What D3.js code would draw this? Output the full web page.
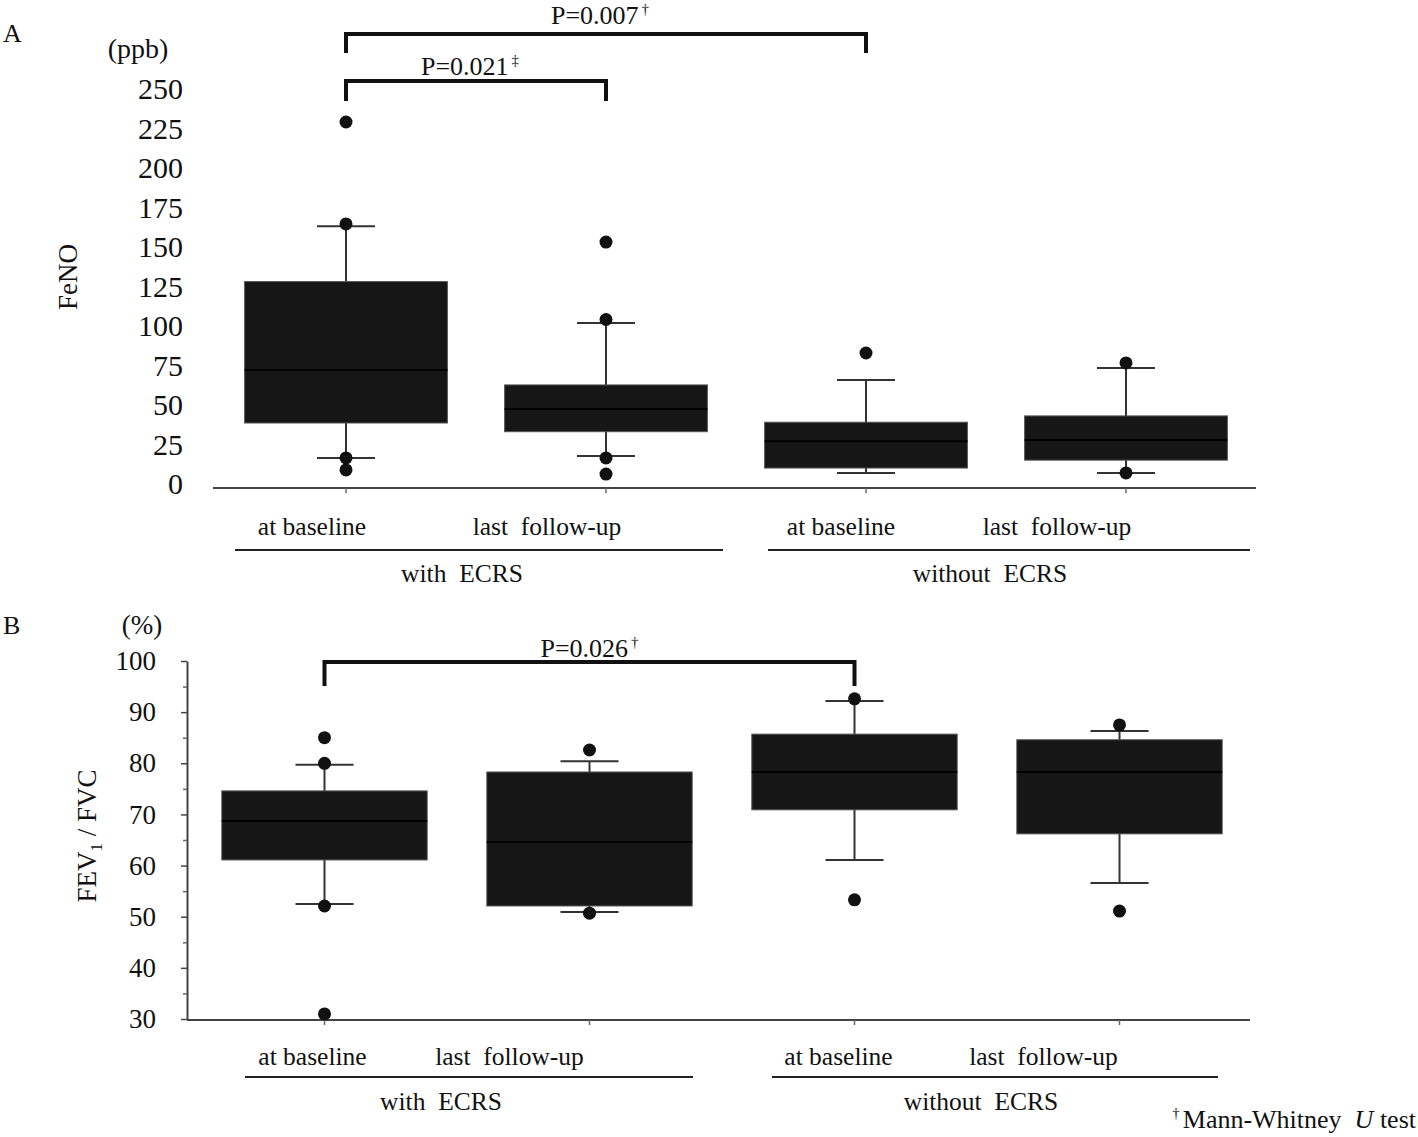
<!DOCTYPE html>
<html>
<head>
<meta charset="utf-8">
<script src="https://cdn.jsdelivr.net/npm/d3@7"></script>
<style>
  html, body { margin: 0; padding: 0; background: #fff; }
  svg text { font-family: 'Liberation Serif', 'Times New Roman', serif; fill: #111; white-space: pre; }
</style>
</head>
<body>
<svg id="chart" width="1418" height="1137"></svg>
<script>
// ---------- DATA ----------
const categories = ["with_base", "with_follow", "without_base", "without_follow"];
const timepointLabels = ["at baseline", "last  follow-up", "at baseline", "last  follow-up"];
const groupLabels = ["with  ECRS", "without  ECRS"];

// Panel A: FeNO (ppb)
const fenoTicks = [0, 25, 50, 75, 100, 125, 150, 175, 200, 225, 250];
const fenoQ1 = [40.5, 35, 12, 17];
const fenoMedian = [74, 49.4, 29, 29.7];
const fenoQ3 = [130, 64.6, 41, 45];
const fenoWhiskerLow = [18.4, 19.6, 8.9, 8.9];
const fenoWhiskerHigh = [165, 103.8, 67.7, 75.3];
const fenoOutliers = [[231, 166.5, 18.4, 10.8], [155, 106, 18.4, 8.2], [84.8], [78.5, 8.9]];

// Panel B: FEV1/FVC (%)
const fevTicks = [30, 40, 50, 60, 70, 80, 90, 100];
const fevMinorTicks = [35, 45, 55, 65, 75, 85, 95];
const fevQ1 = [61.1, 52.1, 70.9, 66.2];
const fevMedian = [68.7, 64.6, 78.3, 78.3];
const fevQ3 = [74.6, 78.3, 85.7, 84.6];
const fevWhiskerLow = [52.5, 50.9, 61.1, 56.6];
const fevWhiskerHigh = [79.7, 80.4, 92.2, 86.3];
const fevOutliers = [[85, 80, 52.1, 31], [82.6, 50.7], [92.6, 53.3], [87.5, 51.1]];

// Significance annotations
const fenoBrackets = [
  { from: "with_base", to: "without_base", label: "P=0.007", mark: "\u2020" },
  { from: "with_base", to: "with_follow", label: "P=0.021", mark: "\u2021" }
];
const fevBrackets = [
  { from: "with_base", to: "without_base", label: "P=0.026", mark: "\u2020" }
];

// ---------- DRAW ----------
const svg = d3.select("#chart");

function boxStats(q1, med, q3, wl, wh, outl) {
  return categories.map((c, i) => ({ cat: c, q1: q1[i], med: med[i], q3: q3[i], wl: wl[i], wh: wh[i], out: outl[i] }));
}

function drawBoxes(g, data, x, y, boxFrac) {
  const bw = x.bandwidth();
  const capW = 58;
  const boxW = bw * boxFrac;
  const grp = g.selectAll("g.box").data(data).join("g").attr("class", "box")
    .attr("transform", d => `translate(${x(d.cat) + bw / 2},0)`);
  grp.append("line").attr("x1", 0).attr("x2", 0)
    .attr("y1", d => y(d.wh)).attr("y2", d => y(d.wl))
    .attr("stroke", "#333").attr("stroke-width", 2);
  grp.append("line").attr("x1", -capW / 2).attr("x2", capW / 2)
    .attr("y1", d => y(d.wh)).attr("y2", d => y(d.wh))
    .attr("stroke", "#333").attr("stroke-width", 2);
  grp.append("line").attr("x1", -capW / 2).attr("x2", capW / 2)
    .attr("y1", d => y(d.wl)).attr("y2", d => y(d.wl))
    .attr("stroke", "#333").attr("stroke-width", 2);
  grp.append("rect").attr("x", -boxW / 2).attr("width", boxW)
    .attr("y", d => y(d.q3)).attr("height", d => y(d.q1) - y(d.q3))
    .attr("fill", "#161616").attr("stroke", "#555").attr("stroke-width", 1);
  grp.append("line").attr("x1", -boxW / 2).attr("x2", boxW / 2)
    .attr("y1", d => y(d.med)).attr("y2", d => y(d.med))
    .attr("stroke", "#000").attr("stroke-width", 2);
  grp.selectAll("circle").data(d => d.out).join("circle")
    .attr("cx", 0).attr("cy", v => y(v)).attr("r", 6.5).attr("fill", "#111");
}

function drawBrackets(g, brackets, x, tops, drops, labelY, labelDx) {
  const bw = x.bandwidth();
  brackets.forEach((b, i) => {
    const x1 = x(b.from) + bw / 2, x2 = x(b.to) + bw / 2;
    g.append("path")
      .attr("d", `M${x1},${drops[i]}V${tops[i]}H${x2}V${drops[i]}`)
      .attr("fill", "none").attr("stroke", "#111").attr("stroke-width", 4);
    const t = g.append("text").attr("x", (x1 + x2) / 2 + labelDx[i]).attr("y", labelY[i])
      .attr("text-anchor", "middle").attr("font-size", 26);
    t.append("tspan").text(b.label);
    t.append("tspan").attr("font-size", 15).attr("dy", -10).attr("dx", 3).text(b.mark);
  });
}

function drawCategoryLabels(g, x, labelDx, tpBaseline, lines, lineY, groupCenters, groupBaseline) {
  const bw = x.bandwidth();
  categories.forEach((c, i) => {
    g.append("text").attr("x", x(c) + bw / 2 + labelDx[i]).attr("y", tpBaseline)
      .attr("text-anchor", "middle").attr("font-size", 25.5).text(timepointLabels[i]);
  });
  lines.forEach(l => {
    g.append("line").attr("x1", l[0]).attr("x2", l[1]).attr("y1", lineY).attr("y2", lineY)
      .attr("stroke", "#222").attr("stroke-width", 2);
  });
  groupLabels.forEach((gl, i) => {
    g.append("text").attr("x", groupCenters[i]).attr("y", groupBaseline)
      .attr("text-anchor", "middle").attr("font-size", 25.5).text(gl);
  });
}

// ===== Panel A =====
{
  const g = svg.append("g");
  const x = d3.scaleBand().domain(categories).range([216, 1256]).padding(0);
  const y = d3.scaleLinear().domain([0, 250]).range([487, 92]);

  const yAxis = d3.axisLeft(y).tickValues(fenoTicks).tickSize(0).tickPadding(0);
  const ya = g.append("g").attr("transform", "translate(183,-3)").call(yAxis);
  ya.select(".domain").remove();
  ya.selectAll("text").attr("font-size", 30).attr("fill", "#111")
    .style("font-family", "'Liberation Serif', 'Times New Roman', serif");

  const xAxis = d3.axisBottom(x).tickSize(5).tickSizeOuter(0).tickFormat("");
  const xa = g.append("g").attr("transform", "translate(0,488)").call(xAxis);
  xa.select(".domain").attr("stroke", "#444").attr("stroke-width", 2).attr("d", "M213,0H1256");
  xa.selectAll(".tick line").attr("stroke", "#666").attr("stroke-width", 1.5);

  drawBoxes(g, boxStats(fenoQ1, fenoMedian, fenoQ3, fenoWhiskerLow, fenoWhiskerHigh, fenoOutliers), x, y, 0.78);
  drawBrackets(g, fenoBrackets, x, [34, 81], [53, 101], [24, 75], [-6, -6]);

  drawCategoryLabels(g, x, [-34, -59, -25, -69], 535, [[235, 723], [768, 1250]], 550, [462, 990], 582);

  g.append("text").attr("x", 3).attr("y", 42).attr("font-size", 26).text("A");
  g.append("text").attr("x", 138).attr("y", 58).attr("text-anchor", "middle").attr("font-size", 28).text("(ppb)");
  g.append("text").attr("transform", "translate(77,277) rotate(-90)").attr("text-anchor", "middle")
    .attr("font-size", 27).text("FeNO");
}

// ===== Panel B =====
{
  const g = svg.append("g");
  const x = d3.scaleBand().domain(categories).range([192, 1252]).padding(0);
  const y = d3.scaleLinear().domain([30, 100]).range([1019, 661]);

  const yAxis = d3.axisLeft(y).tickValues(fevTicks).tickSize(6).tickPadding(25).tickSizeOuter(0);
  const ya = g.append("g").attr("transform", "translate(187,0)").call(yAxis);
  ya.select(".domain").attr("stroke", "#444").attr("stroke-width", 2);
  ya.selectAll(".tick line").attr("stroke", "#444").attr("stroke-width", 1.5);
  ya.selectAll("text").attr("font-size", 27).attr("fill", "#111")
    .style("font-family", "'Liberation Serif', 'Times New Roman', serif");
  const yMinor = d3.axisLeft(y).tickValues(fevMinorTicks).tickSize(4).tickFormat("");
  const ym = g.append("g").attr("transform", "translate(187,0)").call(yMinor);
  ym.select(".domain").remove();
  ym.selectAll(".tick line").attr("stroke", "#666").attr("stroke-width", 1.5);

  const xAxis = d3.axisBottom(x).tickSize(5).tickSizeOuter(0).tickFormat("");
  const xa = g.append("g").attr("transform", "translate(0,1020)").call(xAxis);
  xa.select(".domain").attr("stroke", "#444").attr("stroke-width", 2).attr("d", "M187,0H1250");
  xa.selectAll(".tick line").attr("stroke", "#666").attr("stroke-width", 1.5);

  drawBoxes(g, boxStats(fevQ1, fevMedian, fevQ3, fevWhiskerLow, fevWhiskerHigh, fevOutliers), x, y, 0.775);
  drawBrackets(g, fevBrackets, x, [662], [686], [657], [0]);

  drawCategoryLabels(g, x, [-12, -80, -16, -76], 1065, [[245, 693], [772, 1218]], 1077, [441, 981], 1110);

  g.append("text").attr("x", 3).attr("y", 634).attr("font-size", 26).text("B");
  g.append("text").attr("x", 142).attr("y", 634).attr("text-anchor", "middle").attr("font-size", 27).text("(%)");
  const ft = g.append("text").attr("transform", "translate(96,836) rotate(-90)").attr("text-anchor", "middle")
    .attr("font-size", 27);
  ft.append("tspan").text("FEV");
  ft.append("tspan").attr("font-size", 17).attr("dy", 6).text("1");
  ft.append("tspan").attr("dy", -6).text(" / FVC");

  const fn = g.append("text").attr("x", 1416).attr("y", 1128).attr("text-anchor", "end").attr("font-size", 26);
  fn.append("tspan").attr("font-size", 15).attr("dy", -10).text("\u2020");
  fn.append("tspan").attr("dy", 10).attr("dx", 3).text("Mann-Whitney  ");
  fn.append("tspan").attr("font-style", "italic").text("U");
  fn.append("tspan").text(" test");
}
</script>
</body>
</html>
